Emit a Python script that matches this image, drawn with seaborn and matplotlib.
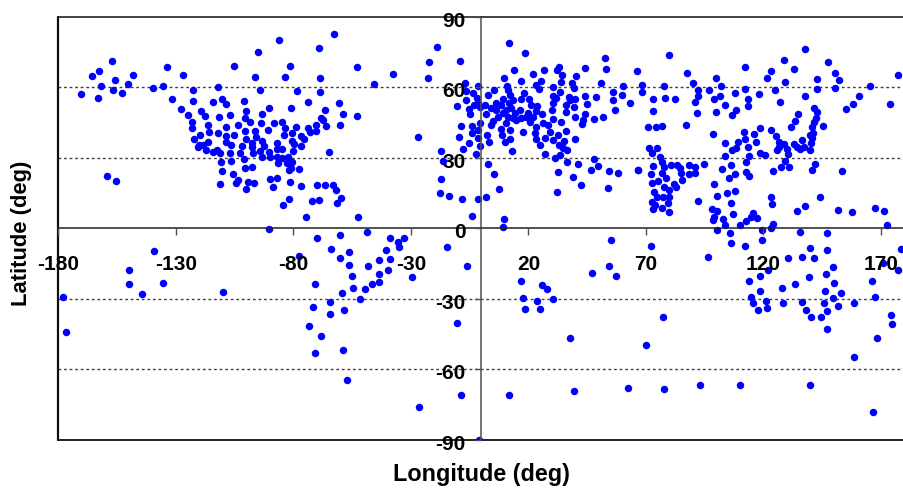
import matplotlib
matplotlib.use("Agg")
import matplotlib.pyplot as plt
from matplotlib.transforms import ScaledTranslation
import pandas as pd
import seaborn as sns

alaska_pacific = [(-170.6,57.2),(-165.9,64.7),(-162.8,66.9),(-157.3,71.3),(-162,60.7),(-163.1,55.3),(-155.9,63.1),(-157,58.9),(-152.9,57.7),(-150.3,61.3),(-148.1,65.1),(-139.8,59.7),(-135.6,60.7),(-133.9,68.4),(-127.1,65.2),(-131.9,55.2),(-159.5,22.1),(-155.4,20)]
north_america = [(-122.9,59),(-112.2,60.1),(-105.4,69.2),(-96.3,64.5),(-94.9,74.9),(-86.2,80.3),(-81.4,68.9),(-83.5,64.2),(-94.4,59),(-78.4,58.6),(-69.2,76.9),(-62.8,82.7),(-68.8,63.8),(-68.8,58.1),(-74,53.8),(-60.5,53.3),(-58.8,48.6),(-66.6,50.3),(-60.1,43.8),(-68.5,47.1),(-67.5,45.9),(-66.2,43.7),(-70.5,44),(-70.5,41.6),(-73.9,42.8),(-73,41),(-81,51.3),(-90.5,51.3),(-93.4,48.5),(-100,49.9),(-101.2,54.2),(-114.3,53.6),(-110.5,54.9),(-108.6,52.9),(-122.8,54),(-127.8,50.8),(-124.9,48.1),(-119.4,50.1),(-117.8,47.7),(-123.4,45.1),(-123.1,42.5),(-111.8,47.5),(-106.9,48.4),(-100.8,46.8),(-98.7,45.4),(-94,45),(-88.3,44.7),(-84.8,45.1),(-83.8,42.8),(-79.1,43),(-90.9,41.7),(-96.3,41.4),(-100.8,41.3),(-103.5,44.1),(-108.6,43.1),(-116.4,44),(-116,41),(-112.2,40.7),(-105.2,39.9),(-108.8,39.3),(-119.8,39.6),(-122.5,37.9),(-95.9,39),(-100.3,38),(-93.4,37.3),(-83.9,39.6),(-80.5,40.6),(-77,39.3),(-75.7,38),(-80.5,37),(-79.8,35.9),(-77,35),(-86.9,36.4),(-92.6,35),(-97.8,36.4),(-97.8,34.7),(-102,35.2),(-108.6,36.7),(-106.8,35.3),(-116.4,36.6),(-120.8,34.7),(-118.6,35.5),(-120,35.5),(-117.4,33.2),(-114.3,32.5),(-112.5,33.3),(-111.2,31.9),(-106.9,32.2),(-102.7,32.2),(-97.3,32.2),(-94.2,32.8),(-93.4,30.2),(-90.5,32.3),(-90.2,30.3),(-86.9,33.6),(-84.7,33.6),(-86.9,30.5),(-84.8,30.1),(-80.3,32.9),(-82.2,30.3),(-80.8,28.4),(-82.8,27.9),(-86.4,27.7),(-64.9,32.6),(-101,29.5),(-106.4,28.6),(-111,28.1)]
central_america = [(-110.6,24.2),(-105.6,23.3),(-100.5,25.8),(-97.8,26.1),(-77.7,25.2),(-81.1,25.7),(-82,24.7),(-90.2,21),(-87.2,21.3),(-88.8,17.6),(-81.7,19.6),(-77,18),(-70.2,18.4),(-66.4,18.4),(-63.4,18.4),(-62,16.3),(-59.7,13),(-61.7,10.9),(-69.2,12.2),(-72.3,11.6),(-82.1,12.6),(-84.4,9.9),(-74.6,4.8),(-90.5,-0.4),(-111.3,18.7),(-104.4,19.1),(-103.5,20.6),(-99.4,19.7),(-96.6,19.1),(-100.3,16.9)]
atlantic = [(-53,68.8),(-37.8,65.8),(-45.8,61.3),(-53,47.8),(-27.2,38.9),(-19,77),(-22.5,70.8),(-22.8,64),(-52.7,4.8),(-17.1,32.8),(-16.4,28.5),(-17.1,21.1),(-17.6,14.9),(-14,13.9),(-8.2,12.5),(-1.7,12.3),(1.9,13.5),(-4.2,5.2),(2.7,27.4),(5.3,23),(7.4,16.7),(9.5,4.1),(9.1,0.4)]
europe = [(-9.1,71.2),(-7.2,62),(-6.8,58.4),(-3.7,57.7),(-1.4,60.4),(-6.5,54.7),(-10.6,52),(-2,55.3),(-5.4,50.6),(-4.7,48.6),(-3,52.5),(-0.8,51.8),(1.3,52.5),(-1.5,53.2),(2.9,56.6),(5.3,59),(1.9,48.8),(-8.6,43.4),(-4.2,43.5),(-0.8,44.8),(-1.3,41.8),(-3.9,40.7),(-9.5,38.9),(-1.3,38.3),(-5.5,36.2),(-0.8,35.2),(-7.9,33.6),(-2.5,31.8),(11.5,79),(18.7,74.7),(13.9,67.2),(9.4,63.8),(10.8,60.4),(16.9,62.7),(21.9,65.5),(26.4,67.4),(32.1,67.4),(32.8,68.8),(34.4,65.1),(40.2,64.7),(43.9,68.1),(12.8,32.8),(10,36.9),(12.2,38.1),(8.7,39.6),(8.5,42.3),(12.2,41.7),(17.6,40.8),(22.7,40.7),(23.4,38.1),(23,43.1),(26.1,44.7),(20.5,45.4),(2.3,39.6),(3.1,36.9),(4,43.8),(4.8,45.8),(7,47.2),(4.1,51.1),(6.3,50.3),(9.1,54.9),(6.3,53.2),(8.4,52.5),(10.5,50.3),(9.1,48.9),(11.2,47.5),(13.4,46.8),(10.5,45),(14.8,46.1),(11.9,53.2),(12.6,51.1),(14.1,48.9),(16.2,50.3),(12.2,56.7),(13.4,54.6),(11.2,58.9),(16.9,46.8),(18,57.7),(17,54.9),(20.2,54.9),(21.2,52.5),(23.6,52.2),(23.3,50.1),(25.7,48.5),(20,48.9),(21.9,47.5),(19,47.5),(23.3,60.9),(24.4,59.4),(25.4,62.5),(30.5,60),(33.8,62.1),(33.6,57.9),(38.5,61.6),(39.3,59.6),(30.4,56.4),(31.6,55.3),(30.4,53.2),(30.1,50.3),(36.1,52.5),(36.1,49.6),(37.2,56),(39.6,54.9),(39.3,51.5),(37.5,54.6)]
middle_east = [(52.5,72.5),(52.9,67.7),(66.3,66.8),(50.7,61.8),(60.2,60.7),(56.1,58.1),(60,56.9),(48.8,56),(55.8,54.6),(63.4,53.3),(56.8,50.3),(51.7,47.2),(47.8,46.4),(44.1,48.8),(43.9,56.4),(44.7,53),(39.6,47.2),(42.7,44.4),(43,46.1),(40,38),(36.1,41.3),(33.8,45.1),(30.5,46.4),(28.4,44.1),(29,41),(32.6,39.9),(27,38.6),(30.5,37.7),(35.1,37),(32.9,35.3),(24.8,35.5),(34.6,34),(36.3,33.3),(33.2,31.2),(31.1,29.9),(27,31.5),(36.3,28.4),(41.2,27.4),(32.5,24.1),(38.9,21.7),(32.1,15.6),(42.4,18.3),(46.4,25),(47.8,29.4),(49.5,26.5),(54.2,24.2),(57.9,23.7),(53.8,17),(66.5,25)]
central_asia = [(68.5,61.1),(68.1,58.1),(79.7,73.8),(87.6,65.9),(77.6,60.7),(73,55.2),(78.1,55.6),(82.5,55.2),(72.9,49.9),(71,43),(74.3,43),(76.7,43.4),(87.2,43.8),(90,61.7),(92,58.7),(92.3,56.2),(91,53.8),(91.7,48.9)]
east_asia = [(97,58.7),(99.7,64.1),(102,60.4),(101.5,56.2),(98.8,55),(103.7,52.5),(100,49.6),(108.3,50.3),(106.4,48.1),(107.9,57.7),(112.3,68.5),(112.3,59.4),(113.2,54.9),(113.2,52),(118.1,57.2),(121.4,63.8),(123.1,66.8),(128.6,71.5),(133,67.7),(137.7,76.2),(129.3,62.1),(124.9,58.9),(127.1,53.8),(137.8,56.3),(142.8,63.4),(142.8,59.4),(147.4,70.8),(150.3,65.9),(152,63.1),(150.3,59.6),(160.5,56.3),(158,53),(154.9,50.8),(165.5,60.6),(177.3,65),(173.7,52.9),(98.3,40),(103.7,36.2),(111.5,41),(112.3,38),(116.1,40),(118.6,42.5),(123.1,41.8),(116.6,36.7),(109.2,36.6),(108.3,34.3),(106.6,33.2),(113.3,34.7),(103.7,30.9),(118.3,32.2),(120.8,31.3),(113.7,30.8),(112.6,28.2),(106.2,26.8),(102.4,25.1),(107.9,23.1),(105.2,21.3),(112.6,24.1),(114,22.4),(123.9,24.2),(127.5,26.2),(129.2,28.6),(130.9,25.9),(130.3,31.5),(130,33.6),(125.8,33.3),(125.4,39.3),(126.5,36.6),(127.2,35.9),(128.9,35.9),(126.8,34.5),(131.7,43.3),(133.5,45.8),(134.7,48.6),(141.7,51.1),(142.7,49.5),(142.4,47.1),(141.3,45.4),(140.7,43),(145.2,43.4),(141,40.7),(139.6,39.7),(140.7,38.3),(136.4,37.4),(140.1,36.4),(133,35.7),(134.2,34.7),(135.4,33.6),(137.4,34.7),(139.6,33.3),(141.8,27.4),(140.8,24.8),(153.6,24.2)]
south_asia = [(71.3,34),(74.6,34.3),(72.5,32.2),(76,30.5),(76.7,28.4),(77.7,26.2),(80.5,26.9),(83.2,26.9),(84.5,25.5),(84.9,23.4),(88.1,26.8),(91,26.2),(91,23.7),(88.1,22.9),(94.7,27.5),(66.8,25),(72.9,26.5),(72.3,23),(77,23.4),(78.7,21.3),(72.5,19.1),(75,20),(82.1,18.9),(85.4,20.4),(82.8,17.7),(77.8,17.4),(79.7,16.3),(73.6,15.5),(74.6,13.2),(77.1,13.2),(80,13.2),(79.4,10.9),(72.5,11.2),(73.9,9.9),(72.9,8.2),(76.7,8.5),(79.6,6.9),(92.3,11.8)]
southeast_asia = [(144.2,13.5),(137.8,9.6),(134.2,7.4),(151.6,7.7),(157.7,6.9),(167.4,8.6),(171.2,7.2),(172.5,1.3),(135.7,-1.4),(146.9,-2.1),(123.4,13.3),(123.5,10.5),(124.2,1.7),(123.2,0),(119.4,-0.6),(115.7,6.4),(117.4,4.2),(114.7,5),(112.6,3.3),(110,1.4),(106.9,6.1),(106.2,10.9),(107.9,16),(104.4,15.2),(100.1,13.9),(98.8,18.9),(98,8.1),(100.3,7.4),(99.1,5),(98.4,3.4),(102.8,4),(103.5,1.4),(100.1,-0.7),(105.8,-2.1)]
south_america = [(-70.1,-4.3),(-60.1,-3),(-48.9,-1.4),(-38.9,-4),(-32.8,-4),(-35.5,-6),(-35.2,-8.1),(-40.6,-9.4),(-38.9,-13.1),(-43.7,-13.5),(-64.2,-8.7),(-60.4,-12.6),(-56.3,-9.9),(-77.7,-11.9),(-56.4,-15.6),(-48.1,-15.9),(-39.6,-17.9),(-43.7,-19.6),(-54.9,-20.4),(-29.6,-20.6),(-43.7,-22.9),(-46.8,-23.7),(-49.6,-25.6),(-54.5,-25.3),(-70.8,-23.6),(-59.3,-27.4),(-64.4,-31.4),(-51.5,-29.9),(-71.9,-33.6),(-58.7,-34.8),(-64.4,-36.6),(-73.3,-41.4),(-68.1,-45.8),(-58.9,-51.9),(-70.9,-52.9),(-57.2,-64.3),(-26.8,-75.8)]
south_pacific = [(-178.1,-29.4),(-176.7,-44.1),(-149.8,-17.6),(-149.8,-23.6),(-144.5,-27.8),(-139.3,-9.8),(-135.5,-23.1),(-109.8,-27.1)]
africa_south = [(-14.6,-7.8),(-6,-16),(-10.3,-40.3),(-8.6,-70.7),(-1.1,-90),(55,-4.8),(72.2,-7.4),(54.3,-16),(47.2,-18.9),(57.3,-20.4),(16.9,-22.6),(25.7,-24.3),(27.8,-26),(17.6,-29.8),(23.7,-30.8),(30.6,-29.9),(18.3,-34.1),(25.1,-34.1),(37.6,-46.8),(77.2,-37.7),(69.9,-49.4),(11.5,-70.8),(39.3,-69.2),(62.4,-67.7),(77.7,-68.5),(92.8,-66.7),(110.1,-66.4),(139.6,-66.8),(166.5,-78)]
australasia = [(96.5,-12.2),(158.7,-54.5),(168.1,-46.5),(174.8,-40.7),(174.3,-36.9),(158.7,-31.6),(167.5,-29.1),(166,-22.4),(170.8,-14.6),(177.2,-17.9),(178.7,-8.7),(106.2,-6.1),(112.2,-7.4),(119.3,-5),(139.9,-8.5),(147,-9.2),(130.4,-12.4),(136.5,-12.2),(141.6,-12.5),(121.9,-17.9),(118.3,-20.4),(113.8,-22.4),(118.3,-26.7),(114.5,-29),(115.6,-31.9),(121.1,-30.8),(121.4,-33.9),(117.6,-34.9),(127.8,-25.3),(133.6,-23.8),(128.5,-31.6),(139.3,-20.7),(136.5,-31.2),(138,-34.9),(140.4,-37.7),(144.3,-37.7),(145.7,-31.6),(147,-35.2),(146,-26.5),(146.5,-19.3),(149.5,-16.5),(149.9,-23.4),(149.5,-29.5),(152.8,-27.3),(151.5,-32.9),(147.1,-43)]

regions = [alaska_pacific, north_america, central_america, atlantic, europe, middle_east,
           central_asia, east_asia, south_asia, southeast_asia, south_america,
           south_pacific, africa_south, australasia]
x_ticks = [-180, -130, -80, -30, 20, 70, 120, 170]
y_ticks = [-90, -60, -30, 0, 30, 60, 90]
grid_lats = [-60, -30, 30, 60]
x_title = "Longitude (deg)"
y_title = "Latitude (deg)"

df = pd.DataFrame([p for r in regions for p in r], columns=["lon", "lat"])

W, H = 904, 491
sns.set_theme(style="white")
plt.rcParams["font.family"] = ["Liberation Sans", "DejaVu Sans"]
plt.rcParams["font.weight"] = "bold"
fig = plt.figure(figsize=(W / 100, H / 100), dpi=100)
ax = fig.add_axes([58.5 / W, (H - 440) / H, 846 / W, 423.3 / H])

for g in grid_lats:
    ax.axhline(g, color="#404040", lw=1, ls=(0, (2, 2)), zorder=1)

sns.scatterplot(data=df, x="lon", y="lat", ax=ax, color="#0000ff", s=29,
                linewidth=0, zorder=2, legend=False)

ax.set_xlim(-180, 180)
ax.set_ylim(-90, 90)
ax.set_axisbelow(False)
ax.spines["left"].set_position(("data", 0))
ax.spines["bottom"].set_position(("data", 0))
ax.spines["left"].set_color("#505050")
ax.spines["bottom"].set_color("#202020")
ax.spines["right"].set_visible(False)
ax.spines["top"].set_color("#101010")
for s in ("left", "bottom", "top"):
    ax.spines[s].set_linewidth(1.1)
ax.axvline(-180, color="#101010", lw=1.6, zorder=2.5, clip_on=False)
ax.axhline(-90, color="#101010", lw=1.3, zorder=2.5, clip_on=False)

ax.set_xticks(x_ticks)
ax.set_yticks(y_ticks)
ax.set_xticklabels([str(v) for v in x_ticks])
ax.set_yticklabels([str(v) for v in y_ticks])
ax.tick_params(axis="x", bottom=True, direction="out", length=5, width=1,
               color="#505050", pad=14, labelsize=15, labelcolor="black")
ax.tick_params(axis="y", left=True, direction="out", length=4, width=1,
               color="#505050", pad=7.5, labelsize=15, labelcolor="black")
shift = ScaledTranslation(0, -2.5 / 100, fig.dpi_scale_trans)
for t in ax.get_yticklabels():
    t.set_transform(t.get_transform() + shift)

ax.set_xlabel(x_title, fontsize=16.8, fontweight="bold", color="black")
ax.set_ylabel(y_title, fontsize=15.8, fontweight="bold", color="black")
ax.xaxis.set_label_coords(0.5, (440 - 463) / 423.3)
ax.yaxis.set_label_coords((32 - 58.5) / 846, (440 - 233) / 423.3)

fig.savefig("out.png", dpi=100, facecolor="white")
